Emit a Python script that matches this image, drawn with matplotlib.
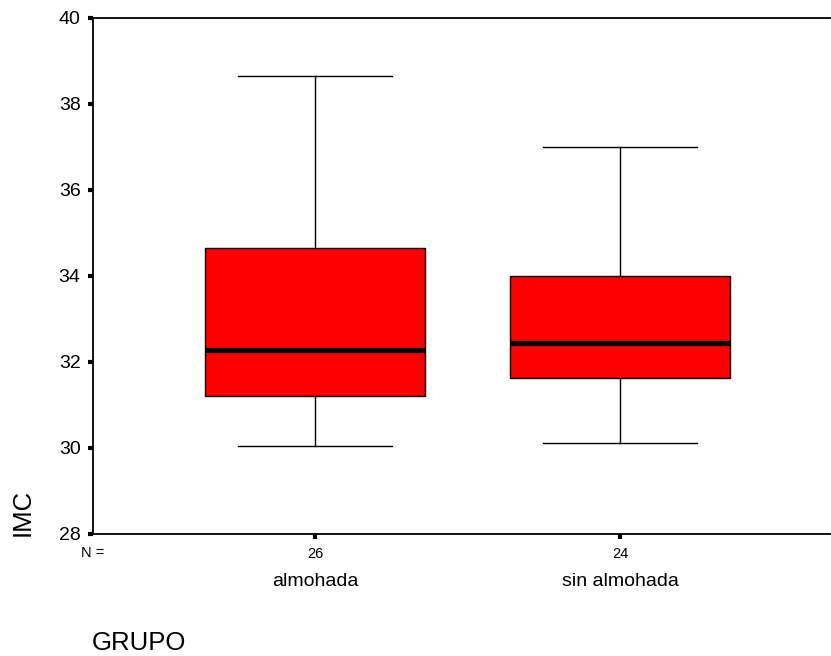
import matplotlib
matplotlib.use("Agg")
import matplotlib.pyplot as plt

# datos (IMC por grupo)
grupos = ["almohada", "sin almohada"]
n_casos = [26, 24]
medianas = [32.28, 32.44]
q1 = [31.21, 31.63]
q3 = [34.65, 34.00]
bigote_inf = [30.05, 30.12]
bigote_sup = [38.65, 37.00]
yticks = [28, 30, 32, 34, 36, 38, 40]

plt.rcParams['font.family'] = ['Liberation Sans', 'DejaVu Sans']

fig = plt.figure(figsize=(8.31, 6.56), dpi=100)
ax = fig.add_axes([93 / 831, 122 / 656, 749 / 831, 516 / 656])

stats = []
for i in range(len(grupos)):
    stats.append({
        'med': medianas[i], 'q1': q1[i], 'q3': q3[i],
        'whislo': bigote_inf[i], 'whishi': bigote_sup[i],
        'fliers': [], 'label': grupos[i],
    })

pos = [1, 2]
ax.bxp(stats, positions=pos, widths=0.72, capwidths=0.505, patch_artist=True,
       showfliers=False,
       boxprops=dict(facecolor='#ff0000', edgecolor='black', linewidth=1.0),
       medianprops=dict(color='black', linewidth=3.8, solid_capstyle='butt'),
       whiskerprops=dict(color='black', linewidth=1.0),
       capprops=dict(color='black', linewidth=1.0))

ax.set_xlim(0.272, 2.728)
ax.set_ylim(28, 40)
ax.set_yticks(yticks)
ax.set_yticklabels([str(t) for t in yticks], fontsize=14)
ax.set_xticks(pos)
ax.set_xticklabels([str(n) for n in n_casos], fontsize=10.5)

for s in ax.spines.values():
    s.set_linewidth(1.3)
ax.tick_params(direction='out', length=3.5, width=3)
ax.tick_params(axis='y', pad=5.5)
ax.tick_params(axis='x', pad=6)

ax.text(0.0, -0.036, "N =", transform=ax.transAxes, ha='center', va='center',
        fontsize=10.5)
for p, g in zip(pos, grupos):
    ax.text(p, -0.093, g, transform=ax.get_xaxis_transform(), ha='center',
            va='center', fontsize=14)

fig.text(92 / 831, 1 - 643 / 656, "GRUPO", ha='left', va='center', fontsize=18.5)
fig.text(23 / 831, 1 - 512 / 656, "IMC", ha='center', va='center', rotation=90,
         fontsize=18.5)

fig.savefig("out.png", dpi=100)
